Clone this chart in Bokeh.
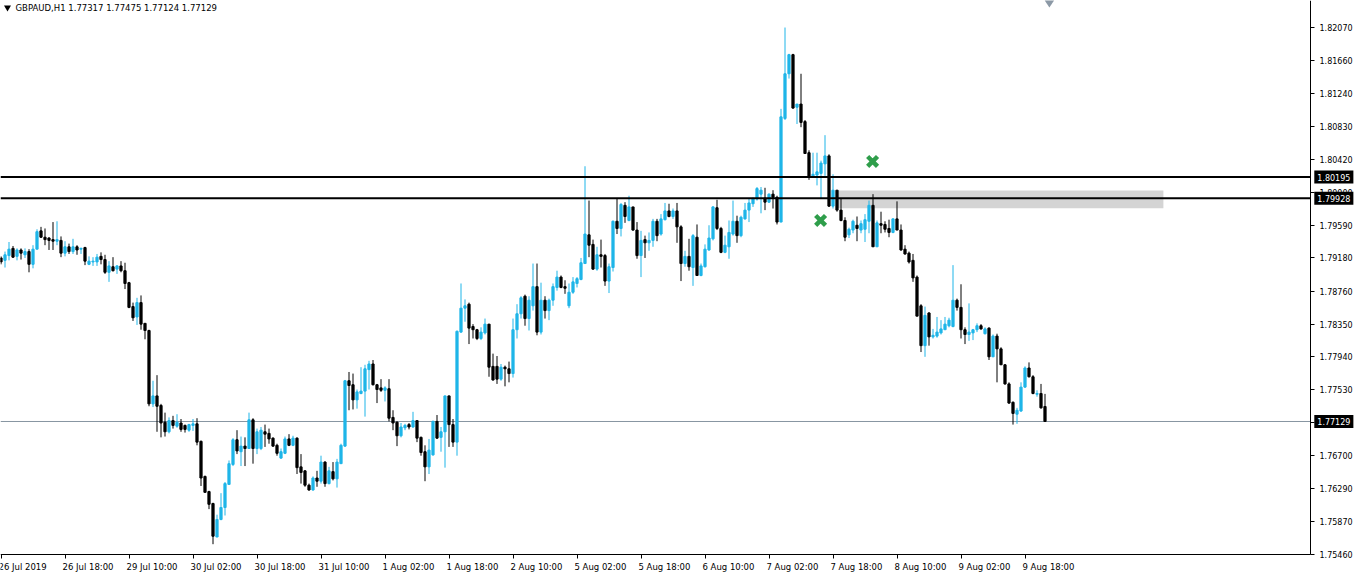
from bokeh.plotting import figure
from bokeh.models import (Range1d, FixedTicker, PrintfTickFormatter, Label,
                          ColumnDataSource)
from bokeh.core.properties import value
from bokeh.embed import file_html
from bokeh.resources import INLINE

symbol = "GBPAUD,H1"

opens = [
 1.7918,1.7915,1.7921,1.7930,1.7920,1.7928,1.7922,1.7926,1.7910,1.7929,
 1.7952,1.7944,1.7943,1.7941,1.7939,1.7940,1.7924,1.7932,1.7926,1.7932,
 1.7929,1.7931,1.7910,1.7913,1.7913,1.7920,1.7916,1.7900,1.7907,1.7904,
 1.7908,1.7902,1.7887,1.7857,1.7844,1.7862,1.7836,1.7827,1.7735,1.7745,
 1.7733,1.7712,1.7700,1.7714,1.7707,1.7711,1.7708,1.7702,1.7708,1.7710,
 1.7688,1.7644,1.7625,1.7610,1.7568,1.7590,1.7605,1.7634,1.7659,1.7690,
 1.7675,1.7682,1.7679,1.7715,1.7679,1.7679,1.7700,1.7698,1.7692,1.7683,
 1.7667,1.7673,1.7691,1.7683,1.7692,1.7656,1.7651,1.7633,1.7627,1.7642,
 1.7638,1.7662,1.7635,1.7650,1.7641,1.7660,1.7682,1.7764,1.7759,1.7740,
 1.7748,1.7751,1.7778,1.7785,1.7759,1.7755,1.7752,1.7754,1.7718,1.7712,
 1.7695,1.7705,1.7709,1.7706,1.7714,1.7693,1.7675,1.7656,1.7671,1.7713,
 1.7693,1.7700,1.7745,1.7709,1.7687,1.7825,1.7855,1.7860,1.7832,1.7828,
 1.7817,1.7824,1.7835,1.7782,1.7782,1.7766,1.7781,1.7779,1.7773,1.7828,
 1.7848,1.7870,1.7842,1.7858,1.7882,1.7825,1.7865,1.7852,1.7865,1.7881,
 1.7894,1.7882,1.7858,1.7875,1.7886,1.7891,1.7911,1.7947,1.7935,1.7904,
 1.7922,1.7921,1.7889,1.7906,1.7964,1.7955,1.7984,1.7965,1.7982,1.7953,
 1.7921,1.7941,1.7937,1.7940,1.7964,1.7948,1.7966,1.7977,1.7970,1.7977,
 1.7957,1.7911,1.7920,1.7906,1.7944,1.7896,1.7907,1.7928,1.7942,1.7981,
 1.7955,1.7925,1.7932,1.7948,1.7964,1.7946,1.7967,1.7978,1.7986,1.7992,
 1.7998,1.7993,1.7988,1.7998,1.7994,1.7963,1.8093,1.8149,1.8173,1.8107,
 1.8111,1.8089,1.8050,1.8021,1.8022,1.8024,1.8036,1.8046,1.7983,1.8003,
 1.7978,1.7965,1.7947,1.7953,1.7959,1.7953,1.7954,1.7964,1.7984,1.7932,
 1.7961,1.7960,1.7955,1.7950,1.7967,1.7953,1.7929,1.7924,1.7915,1.7894,
 1.7858,1.7808,1.7849,1.7819,1.7820,1.7824,1.7828,1.7833,1.7832,1.7865,
 1.7856,1.7828,1.7822,1.7824,1.7828,1.7833,1.7823,1.7830,1.7794,1.7820,
 1.7804,1.7784,1.7760,1.7737,1.7722,1.7726,1.7756,1.7780,1.7769,1.7747,
 1.7748,1.77317]

highs = [
 1.7920,1.7926,1.7938,1.7933,1.7930,1.7930,1.7930,1.7929,1.7934,1.7954,
 1.7957,1.7955,1.7944,1.7963,1.7964,1.7945,1.7939,1.7936,1.7942,1.7934,
 1.7931,1.7932,1.7920,1.7919,1.7923,1.7925,1.7922,1.7914,1.7919,1.7909,
 1.7914,1.7912,1.7888,1.7862,1.7868,1.7871,1.7836,1.7828,1.7764,1.7771,
 1.7735,1.7724,1.7718,1.7720,1.7722,1.7716,1.7709,1.7710,1.7716,1.7717,
 1.7689,1.7645,1.7626,1.7611,1.7596,1.7623,1.7637,1.7664,1.7692,1.7702,
 1.7694,1.7693,1.7724,1.7717,1.7704,1.7706,1.7709,1.7704,1.7693,1.7685,
 1.7679,1.7694,1.7697,1.7695,1.7693,1.7672,1.7652,1.7635,1.7644,1.7651,
 1.7670,1.7663,1.7656,1.7662,1.7666,1.7685,1.7765,1.7775,1.7773,1.7753,
 1.7781,1.7784,1.7789,1.7790,1.7760,1.7766,1.7757,1.7766,1.7727,1.7713,
 1.7711,1.7710,1.7711,1.7725,1.7714,1.7694,1.7683,1.7691,1.7714,1.7721,
 1.7706,1.7745,1.7745,1.7716,1.7827,1.7886,1.7866,1.7862,1.7835,1.7829,
 1.7831,1.7842,1.7835,1.7798,1.7795,1.7785,1.7783,1.7788,1.7842,1.7860,
 1.7870,1.7872,1.7870,1.7911,1.7911,1.7887,1.7870,1.7867,1.7886,1.7902,
 1.7896,1.7890,1.7886,1.7894,1.7894,1.7918,1.8033,1.7990,1.7941,1.7932,
 1.7941,1.7923,1.7911,1.7965,1.7993,1.7987,1.7988,1.7996,1.7982,1.7963,
 1.7952,1.7946,1.7950,1.7967,1.7967,1.7973,1.7987,1.7986,1.7980,1.7987,
 1.7959,1.7927,1.7942,1.7948,1.7960,1.7911,1.7935,1.7959,1.7983,1.7991,
 1.7957,1.7946,1.7965,1.7990,1.7971,1.7971,1.7987,1.7993,1.7994,1.8007,
 1.8007,1.8006,1.7999,1.8003,1.7996,1.8105,1.8207,1.8174,1.8174,1.8111,
 1.8149,1.8091,1.8053,1.8050,1.8050,1.8040,1.8072,1.8048,1.8023,1.8003,
 1.7992,1.7969,1.7956,1.7966,1.7970,1.7965,1.7973,1.7990,1.7998,1.7965,
 1.7976,1.7964,1.7966,1.7968,1.7989,1.7960,1.7934,1.7926,1.7923,1.7896,
 1.7860,1.7857,1.7850,1.7829,1.7844,1.7840,1.7844,1.7843,1.7909,1.7867,
 1.7885,1.7831,1.7861,1.7829,1.7836,1.7835,1.7831,1.7831,1.7822,1.7823,
 1.7806,1.7785,1.7762,1.7738,1.7730,1.7762,1.7782,1.7787,1.7771,1.7752,
 1.7760,1.77475]

lows = [
 1.7910,1.7906,1.7915,1.7918,1.7915,1.7916,1.7918,1.7900,1.7905,1.7929,
 1.7943,1.7934,1.7928,1.7928,1.7934,1.7919,1.7920,1.7923,1.7923,1.7922,
 1.7923,1.7909,1.7909,1.7908,1.7908,1.7910,1.7898,1.7888,1.7901,1.7898,
 1.7900,1.7879,1.7855,1.7839,1.7834,1.7828,1.7816,1.7732,1.7731,1.7700,
 1.7693,1.7694,1.7698,1.7704,1.7705,1.7700,1.7699,1.7700,1.7701,1.7683,
 1.7632,1.7624,1.7603,1.7559,1.7568,1.7589,1.7595,1.7634,1.7657,1.7672,
 1.7657,1.7657,1.7679,1.7660,1.7672,1.7677,1.7681,1.7685,1.7681,1.7670,
 1.7666,1.7672,1.7682,1.7682,1.7647,1.7635,1.7631,1.7626,1.7626,1.7631,
 1.7635,1.7631,1.7634,1.7639,1.7630,1.7660,1.7681,1.7727,1.7728,1.7729,
 1.7747,1.7719,1.7753,1.7758,1.7736,1.7750,1.7738,1.7713,1.7702,1.7682,
 1.7693,1.7702,1.7703,1.7705,1.7687,1.7670,1.7638,1.7647,1.7670,1.7691,
 1.7675,1.7655,1.7681,1.7681,1.7670,1.7824,1.7838,1.7810,1.7817,1.7815,
 1.7815,1.7822,1.7769,1.7764,1.7760,1.7764,1.7757,1.7762,1.7768,1.7817,
 1.7842,1.7833,1.7827,1.7852,1.7821,1.7822,1.7842,1.7840,1.7858,1.7877,
 1.7880,1.7873,1.7855,1.7873,1.7881,1.7890,1.7911,1.7919,1.7903,1.7902,
 1.7906,1.7883,1.7874,1.7901,1.7948,1.7945,1.7962,1.7964,1.7952,1.7917,
 1.7894,1.7918,1.7927,1.7932,1.7939,1.7946,1.7965,1.7969,1.7967,1.7937,
 1.7889,1.7907,1.7902,1.7883,1.7896,1.7895,1.7906,1.7927,1.7940,1.7953,
 1.7924,1.7924,1.7917,1.7946,1.7937,1.7944,1.7966,1.7963,1.7982,1.7990,
 1.7974,1.7978,1.7987,1.7980,1.7960,1.7963,1.8091,1.8143,1.8105,1.8086,
 1.8082,1.8049,1.8016,1.8020,1.8009,1.7992,1.8021,1.7982,1.7980,1.7976,
 1.7964,1.7939,1.7943,1.7949,1.7939,1.7949,1.7938,1.7949,1.7932,1.7932,
 1.7949,1.7950,1.7944,1.7949,1.7953,1.7927,1.7922,1.7911,1.7888,1.7845,
 1.7800,1.7794,1.7808,1.7817,1.7818,1.7822,1.7828,1.7831,1.7831,1.7852,
 1.7817,1.7810,1.7814,1.7815,1.7825,1.7828,1.7822,1.7790,1.7794,1.7762,
 1.7784,1.7759,1.7735,1.7709,1.7710,1.7725,1.7755,1.7768,1.7747,1.7744,
 1.7729,1.77124]

closes = [
 1.7913,1.7922,1.7929,1.7919,1.7928,1.7924,1.7926,1.7910,1.7929,1.7951,
 1.7944,1.7941,1.7940,1.7939,1.7941,1.7924,1.7932,1.7926,1.7932,1.7928,
 1.7930,1.7914,1.7914,1.7914,1.7919,1.7916,1.7900,1.7908,1.7902,1.7908,
 1.7902,1.7886,1.7856,1.7843,1.7862,1.7835,1.7827,1.7735,1.7745,1.7732,
 1.7711,1.7700,1.7714,1.7708,1.7712,1.7703,1.7703,1.7709,1.7710,1.7687,
 1.7642,1.7624,1.7609,1.7569,1.7590,1.7605,1.7635,1.7660,1.7690,1.7676,
 1.7682,1.7679,1.7715,1.7679,1.7700,1.7702,1.7697,1.7691,1.7682,1.7673,
 1.7675,1.7691,1.7683,1.7692,1.7655,1.7649,1.7633,1.7627,1.7642,1.7638,
 1.7662,1.7635,1.7651,1.7641,1.7662,1.7683,1.7764,1.7758,1.7740,1.7750,
 1.7751,1.7779,1.7785,1.7759,1.7753,1.7752,1.7755,1.7717,1.7711,1.7695,
 1.7706,1.7708,1.7706,1.7714,1.7692,1.7674,1.7656,1.7677,1.7713,1.7692,
 1.7700,1.7745,1.7709,1.7687,1.7826,1.7855,1.7858,1.7830,1.7828,1.7817,
 1.7825,1.7835,1.7781,1.7765,1.7766,1.7781,1.7779,1.7773,1.7828,1.7848,
 1.7868,1.7842,1.7865,1.7882,1.7825,1.7865,1.7852,1.7865,1.7882,1.7894,
 1.7881,1.7880,1.7875,1.7888,1.7892,1.7912,1.7948,1.7934,1.7904,1.7922,
 1.7920,1.7889,1.7907,1.7964,1.7955,1.7985,1.7970,1.7982,1.7953,1.7921,
 1.7940,1.7937,1.7940,1.7964,1.7946,1.7967,1.7977,1.7970,1.7977,1.7957,
 1.7911,1.7920,1.7907,1.7946,1.7896,1.7908,1.7929,1.7943,1.7982,1.7955,
 1.7925,1.7934,1.7950,1.7964,1.7946,1.7969,1.7978,1.7987,1.7992,1.8005,
 1.8003,1.7988,1.7998,1.7994,1.7963,1.8095,1.8149,1.8173,1.8106,1.8111,
 1.8088,1.8049,1.8020,1.8023,1.8026,1.8037,1.8046,1.7983,1.8003,1.7978,
 1.7965,1.7944,1.7954,1.7964,1.7955,1.7961,1.7966,1.7984,1.7932,1.7962,
 1.7959,1.7954,1.7950,1.7967,1.7953,1.7928,1.7923,1.7913,1.7893,1.7845,
 1.7808,1.7846,1.7819,1.7821,1.7825,1.7829,1.7835,1.7840,1.7865,1.7856,
 1.7828,1.7822,1.7825,1.7828,1.7833,1.7829,1.7829,1.7794,1.7820,1.7804,
 1.7784,1.7760,1.7736,1.7723,1.7727,1.7756,1.7780,1.7769,1.7748,1.7748,
 1.7730,1.77129]

time_labels = ["26 Jul 2019", "26 Jul 18:00", "29 Jul 10:00", "30 Jul 02:00",
               "30 Jul 18:00", "31 Jul 10:00", "1 Aug 02:00", "1 Aug 18:00",
               "2 Aug 10:00", "5 Aug 02:00", "5 Aug 18:00", "6 Aug 10:00",
               "7 Aug 02:00", "7 Aug 18:00", "8 Aug 10:00", "9 Aug 02:00",
               "9 Aug 18:00"]
bars_per_label = 16

price_ticks = [1.82070, 1.81660, 1.81240, 1.80830, 1.80420, 1.80000, 1.79590,
               1.79180, 1.78760, 1.78350, 1.77940, 1.77530, 1.77120, 1.76700,
               1.76290, 1.75870, 1.75460]

levels = [1.80195, 1.79928]
last_price = 1.77129
zone_bars = [209, 290.6]
zone_prices = [1.79804, 1.80026]
mark_bars = [204.9, 217.9]
mark_prices = [1.79650, 1.80390]

n = len(closes)
assert len(opens) == n and len(highs) == n and len(lows) == n

CYAN = "#1fb5e8"
idx = list(range(n))
colors = [CYAN if c > o else "black" for o, c in zip(opens, closes)]
src = ColumnDataSource(dict(
    x=idx, o=opens, h=highs, l=lows, c=closes,
    top=[max(o, c) for o, c in zip(opens, closes)],
    bottom=[min(o, c) for o, c in zip(opens, closes)],
    color=colors))

W, H = 1357, 578
# x: one bar = 4 px ; y: 1 px = 0.00012542
X0, X1 = -0.125, 339.125
Y1 = 1.82409
Y0 = Y1 - H * 0.00012542
X_AXIS = 327.375          # price-scale line position (in bars)
Y_AXIS = price_ticks[-1]  # time-scale line position (price)

p = figure(width=W, height=H, output_backend="svg", toolbar_location=None,
           x_range=Range1d(X0, X1), y_range=Range1d(Y0, Y1),
           y_axis_location="right", x_axis_location="below", min_border=0)
p.background_fill_color = "white"
p.border_fill_color = "white"
p.outline_line_color = None
p.xgrid.visible = False
p.ygrid.visible = False

FONT = "DejaVu Sans"

ya = p.yaxis[0]
ya.fixed_location = X_AXIS
ya.bounds = (Y_AXIS, Y1)
ya.ticker = FixedTicker(ticks=price_ticks)
ya.formatter = PrintfTickFormatter(format="%.5f")
ya.major_tick_in = 0
ya.major_tick_out = 4
ya.minor_tick_in = 0
ya.minor_tick_out = 0
ya.axis_line_color = "black"
ya.major_tick_line_color = "black"
ya.major_label_text_font = FONT
ya.major_label_text_font_size = "8px"
ya.major_label_text_color = "black"
ya.major_label_standoff = 5

xa = p.xaxis[0]
tick_bars = [k * bars_per_label for k in range(len(time_labels))]
xa.fixed_location = Y_AXIS
xa.bounds = (X0, X_AXIS)
xa.ticker = FixedTicker(ticks=tick_bars)
xa.major_label_overrides = {t: "" for t in tick_bars}
xa.major_tick_in = 0
xa.major_tick_out = 4
xa.minor_tick_in = 0
xa.minor_tick_out = 0
xa.axis_line_color = "black"
xa.major_tick_line_color = "black"

# time labels, left aligned at their ticks
p.text(x=tick_bars, y=[Y_AXIS - 12 * 0.00012542] * len(tick_bars), text=time_labels,
       text_font=value(FONT), text_font_size="8.5px", text_align="left",
       text_baseline="middle", text_color="black", x_offset=-2.5)

# shaded zone
p.quad(left=[zone_bars[0]], right=[zone_bars[1]], bottom=[zone_prices[0]],
       top=[zone_prices[1]], fill_color="#d4d4d4", line_color=None)

# last price line
p.segment(x0=[X0], x1=[X_AXIS], y0=[last_price], y1=[last_price],
          line_color="#8795a1", line_width=1)

# candles
p.segment(x0="x", y0="l", x1="x", y1="h", line_color="color", line_width=1,
          source=src)
p.vbar(x="x", width=0.55, top="top", bottom="bottom", fill_color="color",
       line_color="color", line_width=1, source=src)

# horizontal levels
p.segment(x0=[X0] * len(levels), x1=[X_AXIS] * len(levels), y0=levels, y1=levels,
          line_color="black", line_width=2)

# green marks
p.scatter(x=mark_bars, y=mark_prices, marker="x", size=14, line_width=4.5,
          line_color="#2f9e4b")

# grey marker at top
p.scatter(x=[262.1], y=[Y1], marker="diamond", size=14, fill_color="#8c99a6",
          line_color=None)

# title
p.scatter(x=[1.625], y=[1.82321], marker="inverted_triangle", size=7,
          fill_color="black", line_color=None)
p.add_layout(Label(x=3.625, y=1.82321,
                   text=f"{symbol}  1.77317 1.77475 1.77124 1.77129",
                   text_font=FONT, text_font_size="8.5px", text_baseline="middle",
                   text_color="black"))

# price boxes on the price scale
for val in levels + [last_price]:
    p.add_layout(Label(x=X_AXIS + 0.95, y=val, text=f"{val:.5f}", text_font=FONT,
                       text_font_size="8px", text_color="white",
                       text_baseline="middle", text_align="left",
                       background_fill_color="black", padding=3))

open("out.html", "w").write(file_html(p, INLINE))
